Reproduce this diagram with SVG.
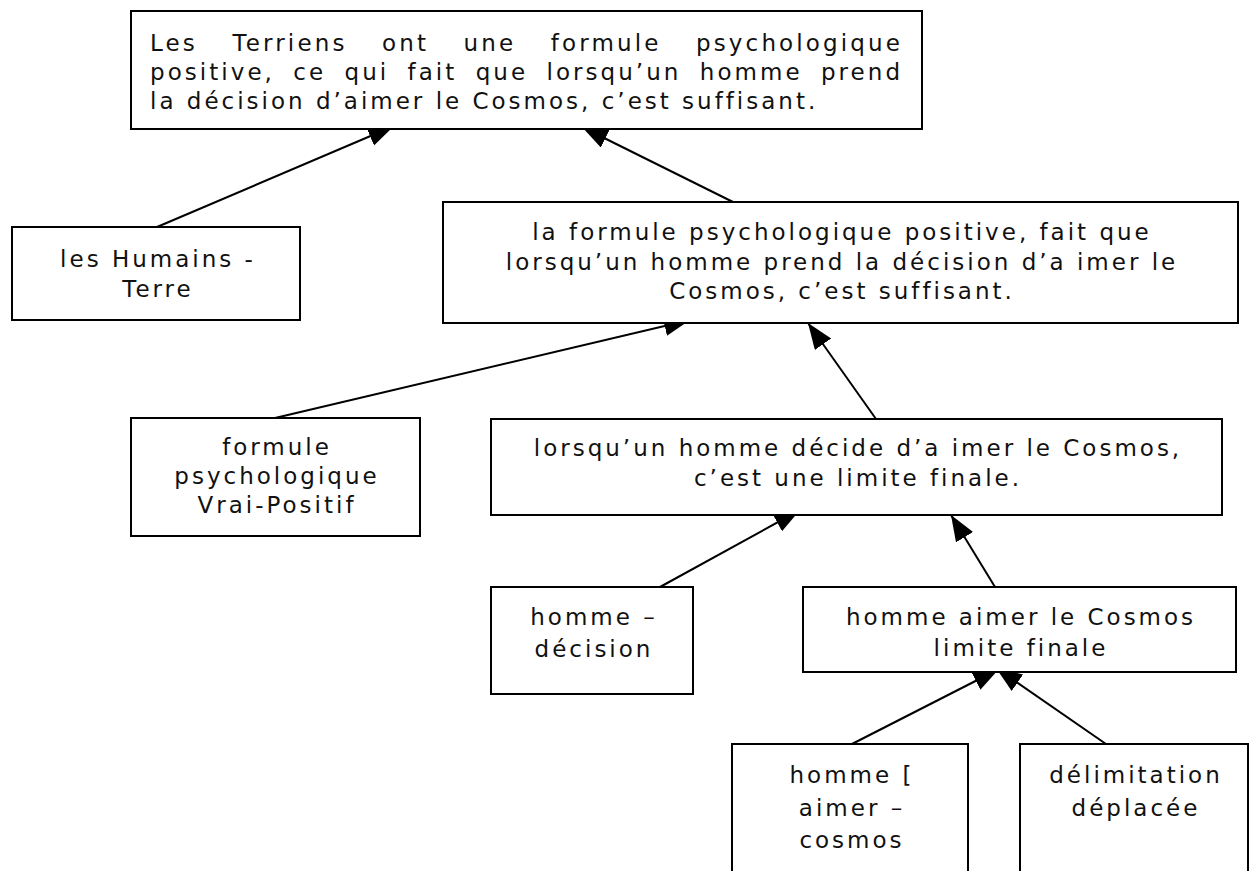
<svg xmlns="http://www.w3.org/2000/svg" width="1250" height="871" viewBox="0 0 1250 871">
  <style>
    .box { fill: #ffffff; stroke: #000000; stroke-width: 2; }
    .lbl { font-family: "DejaVu Sans", "Liberation Sans", sans-serif; font-size: 23px; letter-spacing: 3px; fill: #111111; }
    .mid { text-anchor: middle; }
    .wire { stroke: #000000; stroke-width: 2; fill: none; marker-end: url(#head); }
  </style>
  <defs>
    <!-- filled arrowhead; tips sit just inside the target box, which is painted over them -->
    <marker id="head" markerUnits="userSpaceOnUse" markerWidth="28" markerHeight="22" refX="26" refY="10" orient="auto">
      <path d="M0,0 L26,10 L0,20 z" fill="#000000"/>
    </marker>
  </defs>
  <rect width="1250" height="871" fill="#ffffff"/>

  <g id="connectors">
    <line class="wire" x1="157" y1="227" x2="394" y2="126"/>
    <line class="wire" x1="733" y1="202" x2="582" y2="127"/>
    <line class="wire" x1="275" y1="418" x2="690" y2="320"/>
    <line class="wire" x1="876" y1="419" x2="808" y2="323"/>
    <line class="wire" x1="660" y1="587" x2="800" y2="510"/>
    <line class="wire" x1="995" y1="587" x2="951" y2="515"/>
    <line class="wire" x1="852" y1="744" x2="999" y2="669"/>
    <line class="wire" x1="1106" y1="744" x2="996" y2="668"/>
  </g>

  <g id="n-terriens">
    <rect class="box" x="131" y="11" width="791" height="118"/>
    <text class="lbl" x="150" y="51" textLength="753" lengthAdjust="spacing" word-spacing="24">Les Terriens ont une formule psychologique</text>
    <text class="lbl" x="150" y="80" textLength="753" lengthAdjust="spacing" word-spacing="8">positive, ce qui fait que lorsqu’un homme prend</text>
    <text class="lbl" x="150" y="109">la décision d’aimer le Cosmos, c’est suffisant.</text>
  </g>

  <g id="n-humains">
    <rect class="box" x="12" y="227" width="288" height="93"/>
    <text class="lbl mid" x="158" y="267">les Humains -</text>
    <text class="lbl mid" x="158" y="297">Terre</text>
  </g>

  <g id="n-formule-positive">
    <rect class="box" x="443" y="202" width="795" height="121"/>
    <text class="lbl mid" x="842" y="240">la formule psychologique positive, fait que</text>
    <text class="lbl mid" x="842" y="270">lorsqu’un homme prend la décision d’a imer le</text>
    <text class="lbl mid" x="842" y="299">Cosmos, c’est suffisant.</text>
  </g>

  <g id="n-vrai-positif">
    <rect class="box" x="131" y="418" width="289" height="118"/>
    <text class="lbl mid" x="277" y="455">formule</text>
    <text class="lbl mid" x="277" y="484">psychologique</text>
    <text class="lbl mid" x="277" y="513">Vrai-Positif</text>
  </g>

  <g id="n-limite">
    <rect class="box" x="491" y="419" width="731" height="96"/>
    <text class="lbl mid" x="858" y="456">lorsqu’un homme décide d’a imer le Cosmos,</text>
    <text class="lbl mid" x="858" y="486">c’est une limite finale.</text>
  </g>

  <g id="n-decision">
    <rect class="box" x="491" y="587" width="202" height="107"/>
    <text class="lbl mid" x="594" y="625">homme –</text>
    <text class="lbl mid" x="594" y="657">décision</text>
  </g>

  <g id="n-aimer-cosmos">
    <rect class="box" x="803" y="587" width="433" height="85"/>
    <text class="lbl mid" x="1021" y="625">homme aimer le Cosmos</text>
    <text class="lbl mid" x="1021" y="656">limite finale</text>
  </g>

  <g id="n-homme-cosmos">
    <rect class="box" x="732" y="744" width="236" height="140"/>
    <text class="lbl mid" x="852" y="783">homme [</text>
    <text class="lbl mid" x="852" y="816">aimer –</text>
    <text class="lbl mid" x="852" y="848">cosmos</text>
  </g>

  <g id="n-delimitation">
    <rect class="box" x="1020" y="744" width="228" height="140"/>
    <text class="lbl mid" x="1136" y="783">délimitation</text>
    <text class="lbl mid" x="1136" y="816">déplacée</text>
  </g>
</svg>
